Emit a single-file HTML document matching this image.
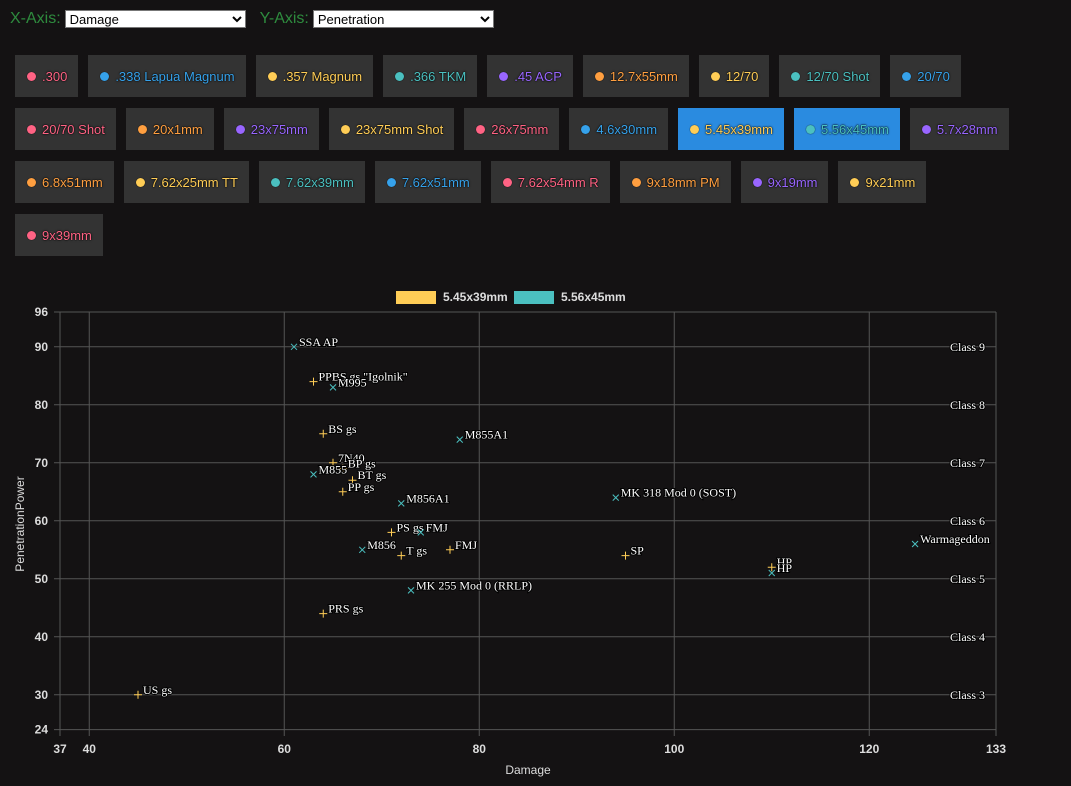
<!DOCTYPE html>
<html><head><meta charset="utf-8"><style>
body{margin:0;background:#141213;width:1071px;height:786px;overflow:hidden;font-family:"Liberation Sans",Arial,sans-serif;position:relative}
.top{position:absolute;left:10px;top:10px;color:#2e8b3e;font-size:16px;display:flex;align-items:center}
.top select{font-family:"Liberation Sans",Arial,sans-serif;font-size:13px;height:18px;margin-left:4px;background:#fff;border:1px solid #777;color:#000;padding:0}
.btns{position:absolute;left:15px;top:55px;width:1000px;display:flex;flex-wrap:wrap;gap:11px 10px}
.b{height:42px;background:#333;padding:0 11px 0 12px;display:flex;align-items:center;font-size:13px;text-shadow:0 0 2px #000,0 0 1px #000;box-sizing:border-box}
.b.on{background:#2a8be0}
.d{width:9px;height:9px;border-radius:50%;margin-right:6px;box-shadow:0 0 1px #000}
</style></head><body>
<div class="top"><span>X-Axis:</span><select style="width:181px"><option>Damage</option></select><span style="margin-left:14px">Y-Axis:</span><select style="width:181px"><option>Penetration</option></select></div>
<div class="btns" id="btns"></div>
<svg id="ch" width="1071" height="786" style="position:absolute;left:0;top:0"></svg>
<script>
const C={r:'#ff6384',b:'#36a2eb',y:'#ffcd56',t:'#4bc0c0',p:'#9966ff',o:'#ff9f40'};
const calibers=[['.300','r'],['.338 Lapua Magnum','b'],['.357 Magnum','y'],['.366 TKM','t'],['.45 ACP','p'],['12.7x55mm','o'],['12/70','y'],['12/70 Shot','t'],['20/70','b'],['20/70 Shot','r'],['20x1mm','o'],['23x75mm','p'],['23x75mm Shot','y'],['26x75mm','r'],['4.6x30mm','b'],['5.45x39mm','y',1],['5.56x45mm','t',1],['5.7x28mm','p'],['6.8x51mm','o'],['7.62x25mm TT','y'],['7.62x39mm','t'],['7.62x51mm','b'],['7.62x54mm R','r'],['9x18mm PM','o'],['9x19mm','p'],['9x21mm','y'],['9x39mm','r']];
const bt=document.getElementById('btns');
calibers.forEach(c=>{const d=document.createElement('div');d.className='b'+(c[2]?' on':'');


d.style.color=C[c[1]];d.innerHTML='<span class="d" style="background:'+C[c[1]]+'"></span>'+c[0];bt.appendChild(d);});

const names545=['PPBS gs "Igolnik"','BS gs','7N40','BP gs','BT gs','PP gs','PS gs','T gs','FMJ','PRS gs','US gs','SP','HP'];
const dmg545=[63,64,65,66,67,66,71,72,77,64,45,95,110];
const pen545=[84,75,70,69,67,65,58,54,55,44,30,54,52];
const names556=['SSA AP','M995','M855A1','M855','M856A1','FMJ','M856','MK 255 Mod 0 (RRLP)','MK 318 Mod 0 (SOST)','HP','Warmageddon'];
const dmg556=[61,65,78,63,72,74,68,73,94,110,124.7];
const pen556=[90,83,74,68,63,58,55,48,64,51,56];
const xTicks=[37,40,60,80,100,120,133];
const yTicks=[24,30,40,50,60,70,80,90,96];
const classes=[[90,'Class 9'],[80,'Class 8'],[70,'Class 7'],[60,'Class 6'],[50,'Class 5'],[40,'Class 4'],[30,'Class 3']];
const X=v=>60+(v-37)*(936/96), Y=v=>312+(96-v)*(417.6/72);
const s=document.getElementById('ch');let h='';
xTicks.forEach(t=>{h+=`<line x1="${X(t)}" y1="312" x2="${X(t)}" y2="736" stroke="#555"/><text x="${X(t)}" y="753" fill="#ddd" font-size="12" font-weight="bold" text-anchor="middle">${t}</text>`;});
yTicks.forEach(t=>{h+=`<line x1="54" y1="${Y(t)}" x2="996" y2="${Y(t)}" stroke="#555"/><text x="48" y="${Y(t)+4}" fill="#ddd" font-size="12" font-weight="bold" text-anchor="end">${t}</text>`;});
h+=`<text x="528" y="774" fill="#ddd" font-size="12" text-anchor="middle">Damage</text>`;
h+=`<text transform="translate(24,524) rotate(-90)" fill="#ddd" font-size="12" text-anchor="middle">PenetrationPower</text>`;
const lab=(x,y,t,a,n)=>`<text x="${x}" y="${y}" fill="#fff" stroke="#000" stroke-width="2" paint-order="stroke" font-family="Liberation Serif,serif" font-size="12" text-anchor="${a||'start'}">${t.replace(/"/g,'&quot;')}</text>`;
classes.forEach(c=>{h+=lab(985,Y(c[0])+4,c[1],'end','class-label');});
names545.forEach((n,i)=>{const x=X(dmg545[i]),y=Y(pen545[i]);h+=`<path d="M${x-4} ${y}h8M${x} ${y-4}v8" stroke="${C.y}"/>`;h+=lab(x+5,y-1,n,0,'point-label');});
names556.forEach((n,i)=>{const x=X(dmg556[i]),y=Y(pen556[i]);h+=`<path d="M${x-3} ${y-3}l6 6M${x+3} ${y-3}l-6 6" stroke="${C.t}"/>`;h+=lab(x+5,y-1,n,0,'point-label');});
h+=`<rect x="396" y="291" width="40" height="13" fill="${C.y}"/><text x="443" y="301" fill="#ddd" font-size="12" font-weight="bold">5.45x39mm</text>`;
h+=`<rect x="514" y="291" width="40" height="13" fill="${C.t}"/><text x="561" y="301" fill="#ddd" font-size="12" font-weight="bold">5.56x45mm</text>`;
s.innerHTML=h;
</script>
</body></html>
